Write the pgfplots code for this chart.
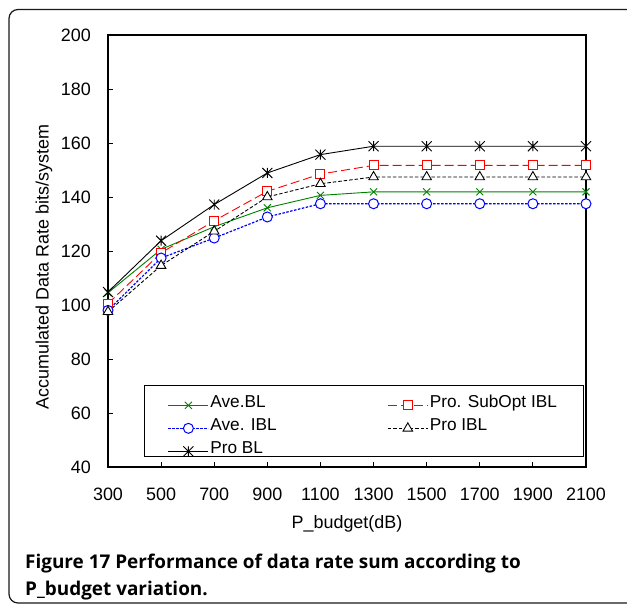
\documentclass[border=0pt]{standalone}
\usepackage{pgfplots}
\pgfplotsset{compat=1.18}
\usepackage{fontspec}
\setmainfont{Liberation Sans}
\newfontfamily\capfont{Open Sans}

% Excel style star: an x with a vertical bar
\pgfdeclareplotmark{xstar}{%
  \pgfpathmoveto{\pgfqpoint{0pt}{\pgfplotmarksize}}%
  \pgfpathlineto{\pgfqpoint{0pt}{-\pgfplotmarksize}}%
  \pgfpathmoveto{\pgfqpoint{-\pgfplotmarksize}{\pgfplotmarksize}}%
  \pgfpathlineto{\pgfqpoint{\pgfplotmarksize}{-\pgfplotmarksize}}%
  \pgfpathmoveto{\pgfqpoint{-\pgfplotmarksize}{-\pgfplotmarksize}}%
  \pgfpathlineto{\pgfqpoint{\pgfplotmarksize}{\pgfplotmarksize}}%
  \pgfusepathqstroke}

\definecolor{exgreen}{RGB}{0,128,0}

\begin{document}
\begin{tikzpicture}
\path[use as bounding box] (0,0) rectangle (627bp,605bp);
\draw[line width=1.2bp, black!90, rounded corners=9bp] (9bp,2bp) rectangle (660bp,595.5bp);

\begin{axis}[
  at={(108bp,138bp)}, anchor=south west,
  scale only axis, width=478bp, height=432bp,
  xmin=0, xmax=9, ymin=40, ymax=200,
  xtick={0,...,9},
  xticklabels={300,500,700,900,1100,1300,1500,1700,1900,2100},
  ytick={40,60,...,200},
  tick align=inside, xtick pos=bottom, ytick pos=left,
  major tick length=5bp,
  tick style={black, line width=0.8bp},
  axis line style={line width=2bp},
  /pgf/number format/assume math mode=true,
  ticklabel style={font=\fontsize{18}{20}\selectfont, inner sep=0pt},
  yticklabel style={anchor=east, xshift=-17bp},
  xticklabel style={anchor=north, yshift=-21bp},
  label style={font=\fontsize{18}{20}\selectfont},
  xlabel={P\_budget(dB)},
  x label style={at={(axis description cs:0.5,-0.1435)}, anchor=base},
  ylabel={Accumulated Data Rate bits/system},
  y label style={at={(axis description cs:-0.1339,0.463)}, anchor=center},
  legend columns=2,
  legend cell align=left,
  legend style={at={(axis description cs:0.0753,0.19)}, anchor=north west,
    font=\fontsize{17.3}{19}\selectfont, draw=black, line width=0.8bp,
    inner xsep=24bp, inner ysep=2bp, row sep=2bp,
    nodes={inner ysep=1bp, text height=19bp, text depth=0bp},
    /tikz/every even column/.append style={column sep=109bp}},
  legend image code/.code={%
    \path[draw=none] (0bp,0bp) (40bp,0bp);
    \draw[overlay, mark repeat=2, mark phase=2]
      plot coordinates {(0bp,-7.5bp) (20bp,-7.5bp) (40bp,-7.5bp)};},
  every axis plot/.append style={line width=0.9bp, mark size=5bp},
]

\addplot[color=exgreen, mark=x, mark options={solid}]
coordinates{
  (0,104.5) (1,120.6) (2,129.0) (3,136.0) (4,140.6)
  (5,141.9) (6,141.9) (7,141.9) (8,141.9) (9,141.9)
};
\addlegendentry{Ave.BL}

\addplot[color=red, dash pattern=on 9bp off 4bp, mark=square*, mark options={solid, fill=white, mark size=4.5bp}]
coordinates{
  (0,100.5) (1,119.3) (2,131.2) (3,142.1) (4,148.5)
  (5,151.7) (6,151.7) (7,151.7) (8,151.7) (9,151.7)
};
\addlegendentry{Pro. SubOpt IBL}

\addplot[color=blue, line width=1.2bp, dash pattern=on 2.5bp off 1.5bp, mark=*, mark options={solid, fill=white, line width=1bp}]
coordinates{
  (0,98.0) (1,117.4) (2,124.8) (3,132.6) (4,137.5)
  (5,137.5) (6,137.5) (7,137.5) (8,137.5) (9,137.5)
};
\addlegendentry{Ave. IBL}

\addplot[color=black, dash pattern=on 3.5bp off 2bp, mark=triangle*, mark options={solid, fill=white, mark size=5.5bp}]
coordinates{
  (0,97.5) (1,114.6) (2,127.3) (3,140.0) (4,144.9)
  (5,147.4) (6,147.4) (7,147.4) (8,147.4) (9,147.4)
};
\addlegendentry{Pro IBL}

\addplot[color=black, mark=xstar, mark options={solid}]
coordinates{
  (0,104.8) (1,123.8) (2,137.2) (3,148.9) (4,155.7)
  (5,158.8) (6,158.8) (7,158.8) (8,158.8) (9,158.8)
};
\addlegendentry{Pro BL}

\end{axis}

\node[anchor=base west, inner sep=0pt, font=\capfont\bfseries\fontsize{19}{22}\selectfont]
  at (25bp,37bp) {Figure 17 Performance of data rate sum according to};
\node[anchor=base west, inner sep=0pt, font=\capfont\bfseries\fontsize{19}{22}\selectfont]
  at (25bp,10bp) {P\_budget variation.};
\end{tikzpicture}
\end{document}
